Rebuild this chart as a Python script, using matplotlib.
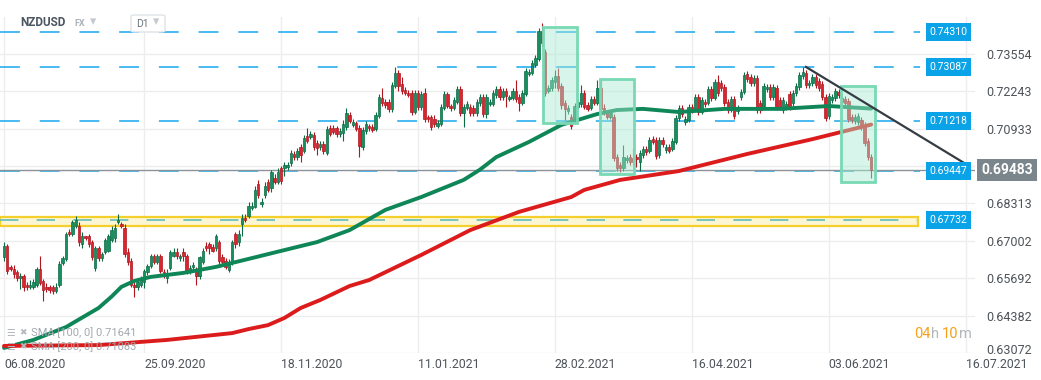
import matplotlib
matplotlib.use("Agg")
import matplotlib.pyplot as plt
import matplotlib.transforms as mtransforms
from matplotlib.patches import Rectangle, FancyBboxPatch

plt.rcParams['font.family'] = ['Roboto', 'DejaVu Sans']

# ── NZDUSD D1 candles ────────────────────────────────────────────────────
opens = [
    0.6642, 0.6684, 0.6607, 0.6600, 0.6590, 0.6569, 0.6576, 0.6547, 0.6537, 0.6540,
    0.6547, 0.6600, 0.6558, 0.6540, 0.6537, 0.6537, 0.6523, 0.6544, 0.6621, 0.6635,
    0.6733, 0.6726, 0.6754, 0.6754, 0.6688, 0.6716, 0.6716, 0.6695, 0.6604, 0.6677,
    0.6639, 0.6660, 0.6666, 0.6705, 0.6712, 0.6768, 0.6758, 0.6747, 0.6663, 0.6628,
    0.6547, 0.6537, 0.6547, 0.6555, 0.6590, 0.6611, 0.6649, 0.6625, 0.6646, 0.6590,
    0.6569, 0.6604, 0.6649, 0.6660, 0.6639, 0.6660, 0.6649, 0.6590, 0.6607, 0.6600,
    0.6576, 0.6625, 0.6684, 0.6688, 0.6680, 0.6674, 0.6695, 0.6642, 0.6628, 0.6597,
    0.6625, 0.6723, 0.6695, 0.6761, 0.6782, 0.6786, 0.6817, 0.6820, 0.6901, 0.6828,
    0.6862, 0.6908, 0.6884, 0.6922, 0.6908, 0.6954, 0.6957, 0.6961, 0.6975, 0.7006,
    0.6996, 0.7031, 0.7017, 0.7069, 0.7066, 0.7073, 0.7045, 0.7031, 0.7041, 0.7010,
    0.7097, 0.7097, 0.7097, 0.7076, 0.7080, 0.7101, 0.7143, 0.7108, 0.7115, 0.7097,
    0.7031, 0.7087, 0.7104, 0.7101, 0.7094, 0.7139, 0.7202, 0.7188, 0.7188, 0.7164,
    0.7244, 0.7290, 0.7251, 0.7230, 0.7220, 0.7220, 0.7153, 0.7220, 0.7171, 0.7220,
    0.7136, 0.7136, 0.7128, 0.7104, 0.7111, 0.7167, 0.7216, 0.7174, 0.7167, 0.7188,
    0.7233, 0.7150, 0.7167, 0.7171, 0.7167, 0.7150, 0.7185, 0.7206, 0.7146, 0.7181,
    0.7181, 0.7213, 0.7233, 0.7206, 0.7227, 0.7199, 0.7202, 0.7227, 0.7206, 0.7185,
    0.7216, 0.7286, 0.7290, 0.7317, 0.7338, 0.7436, 0.7363, 0.7227, 0.7237, 0.7258,
    0.7279, 0.7244, 0.7185, 0.7157, 0.7136, 0.7125, 0.7171, 0.7181, 0.7220, 0.7178,
    0.7167, 0.7199, 0.7185, 0.7237, 0.7167, 0.7153, 0.7136, 0.7136, 0.6996, 0.6968,
    0.6954, 0.6985, 0.6996, 0.6992, 0.6996, 0.6978, 0.7003, 0.7024, 0.7017, 0.7059,
    0.7055, 0.7003, 0.7055, 0.7020, 0.7031, 0.7024, 0.7048, 0.7132, 0.7167, 0.7118,
    0.7125, 0.7171, 0.7160, 0.7206, 0.7153, 0.7188, 0.7185, 0.7233, 0.7202, 0.7258,
    0.7255, 0.7241, 0.7188, 0.7160, 0.7199, 0.7157, 0.7206, 0.7223, 0.7286, 0.7276,
    0.7255, 0.7272, 0.7185, 0.7174, 0.7234, 0.7241, 0.7206, 0.7237, 0.7195, 0.7160,
    0.7171, 0.7216, 0.7185, 0.7220, 0.7241, 0.7279, 0.7290, 0.7248, 0.7255, 0.7276,
    0.7262, 0.7251, 0.7206, 0.7139, 0.7195, 0.7202, 0.7223, 0.7202, 0.7199, 0.7192,
    0.7136, 0.7122, 0.7118, 0.7125, 0.7108, 0.7052, 0.6996,
]
highs = [
    0.6695, 0.6691, 0.6614, 0.6614, 0.6597, 0.6586, 0.6583, 0.6555, 0.6562, 0.6565,
    0.6607, 0.6646, 0.6565, 0.6551, 0.6544, 0.6547, 0.6551, 0.6628, 0.6649, 0.6733,
    0.6743, 0.6775, 0.6786, 0.6768, 0.6730, 0.6719, 0.6723, 0.6705, 0.6684, 0.6684,
    0.6660, 0.6712, 0.6726, 0.6751, 0.6758, 0.6793, 0.6768, 0.6758, 0.6674, 0.6639,
    0.6555, 0.6562, 0.6576, 0.6600, 0.6618, 0.6653, 0.6656, 0.6653, 0.6653, 0.6600,
    0.6600, 0.6670, 0.6674, 0.6677, 0.6656, 0.6674, 0.6656, 0.6614, 0.6625, 0.6607,
    0.6649, 0.6677, 0.6695, 0.6695, 0.6688, 0.6726, 0.6705, 0.6653, 0.6639, 0.6635,
    0.6705, 0.6733, 0.6737, 0.6793, 0.6793, 0.6835, 0.6835, 0.6894, 0.6915, 0.6852,
    0.6905, 0.6918, 0.6950, 0.6933, 0.6957, 0.6964, 0.6978, 0.6978, 0.7020, 0.7017,
    0.7027, 0.7041, 0.7073, 0.7097, 0.7087, 0.7083, 0.7055, 0.7052, 0.7052, 0.7104,
    0.7108, 0.7108, 0.7104, 0.7097, 0.7125, 0.7167, 0.7153, 0.7129, 0.7122, 0.7108,
    0.7101, 0.7122, 0.7111, 0.7111, 0.7153, 0.7216, 0.7237, 0.7199, 0.7199, 0.7258,
    0.7310, 0.7300, 0.7276, 0.7240, 0.7230, 0.7230, 0.7230, 0.7230, 0.7227, 0.7237,
    0.7143, 0.7143, 0.7143, 0.7125, 0.7181, 0.7227, 0.7223, 0.7181, 0.7206, 0.7244,
    0.7244, 0.7181, 0.7192, 0.7181, 0.7178, 0.7199, 0.7216, 0.7216, 0.7216, 0.7199,
    0.7230, 0.7244, 0.7244, 0.7237, 0.7237, 0.7213, 0.7237, 0.7265, 0.7216, 0.7230,
    0.7307, 0.7303, 0.7335, 0.7352, 0.7447, 0.7465, 0.7373, 0.7248, 0.7276, 0.7300,
    0.7307, 0.7255, 0.7195, 0.7178, 0.7146, 0.7185, 0.7199, 0.7248, 0.7230, 0.7188,
    0.7209, 0.7209, 0.7265, 0.7265, 0.7181, 0.7160, 0.7160, 0.7146, 0.7006, 0.6978,
    0.7038, 0.7003, 0.7006, 0.7027, 0.7006, 0.7020, 0.7034, 0.7034, 0.7066, 0.7069,
    0.7066, 0.7066, 0.7066, 0.7041, 0.7041, 0.7062, 0.7143, 0.7178, 0.7178, 0.7139,
    0.7181, 0.7181, 0.7216, 0.7216, 0.7206, 0.7199, 0.7244, 0.7244, 0.7268, 0.7283,
    0.7265, 0.7251, 0.7199, 0.7209, 0.7209, 0.7178, 0.7234, 0.7293, 0.7297, 0.7286,
    0.7283, 0.7283, 0.7195, 0.7255, 0.7251, 0.7251, 0.7251, 0.7248, 0.7206, 0.7206,
    0.7192, 0.7227, 0.7230, 0.7255, 0.7293, 0.7310, 0.7300, 0.7265, 0.7286, 0.7286,
    0.7272, 0.7262, 0.7216, 0.7220, 0.7216, 0.7237, 0.7234, 0.7213, 0.7209, 0.7202,
    0.7146, 0.7146, 0.7150, 0.7136, 0.7118, 0.7062, 0.7006,
]
lows = [
    0.6628, 0.6583, 0.6593, 0.6569, 0.6558, 0.6530, 0.6523, 0.6527, 0.6530, 0.6530,
    0.6540, 0.6544, 0.6488, 0.6520, 0.6516, 0.6513, 0.6516, 0.6537, 0.6614, 0.6628,
    0.6719, 0.6719, 0.6747, 0.6684, 0.6677, 0.6702, 0.6680, 0.6632, 0.6593, 0.6628,
    0.6628, 0.6653, 0.6660, 0.6695, 0.6698, 0.6758, 0.6744, 0.6642, 0.6614, 0.6537,
    0.6505, 0.6527, 0.6540, 0.6534, 0.6579, 0.6604, 0.6618, 0.6618, 0.6586, 0.6569,
    0.6551, 0.6597, 0.6642, 0.6635, 0.6628, 0.6628, 0.6583, 0.6583, 0.6600, 0.6547,
    0.6565, 0.6618, 0.6666, 0.6653, 0.6660, 0.6666, 0.6618, 0.6614, 0.6600, 0.6590,
    0.6614, 0.6677, 0.6684, 0.6716, 0.6765, 0.6779, 0.6807, 0.6814, 0.6852, 0.6820,
    0.6852, 0.6873, 0.6873, 0.6898, 0.6898, 0.6901, 0.6929, 0.6950, 0.6964, 0.6985,
    0.6985, 0.6978, 0.7010, 0.7045, 0.7059, 0.7020, 0.7003, 0.7020, 0.7006, 0.7003,
    0.7069, 0.7076, 0.7066, 0.7066, 0.7052, 0.7090, 0.7115, 0.7101, 0.7087, 0.6996,
    0.7020, 0.7076, 0.7087, 0.7083, 0.7087, 0.7132, 0.7174, 0.7167, 0.7153, 0.7153,
    0.7237, 0.7227, 0.7216, 0.7213, 0.7206, 0.7143, 0.7146, 0.7160, 0.7160, 0.7118,
    0.7118, 0.7090, 0.7101, 0.7097, 0.7104, 0.7160, 0.7167, 0.7157, 0.7160, 0.7181,
    0.7139, 0.7101, 0.7160, 0.7139, 0.7139, 0.7139, 0.7174, 0.7136, 0.7132, 0.7174,
    0.7174, 0.7202, 0.7195, 0.7195, 0.7171, 0.7192, 0.7195, 0.7188, 0.7157, 0.7178,
    0.7209, 0.7279, 0.7283, 0.7310, 0.7331, 0.7384, 0.7209, 0.7220, 0.7227, 0.7237,
    0.7227, 0.7164, 0.7125, 0.7146, 0.7094, 0.7111, 0.7164, 0.7171, 0.7164, 0.7157,
    0.7160, 0.7178, 0.7178, 0.7153, 0.7143, 0.7129, 0.7129, 0.6981, 0.6946, 0.6943,
    0.6946, 0.6975, 0.6968, 0.6968, 0.6961, 0.6946, 0.6992, 0.7003, 0.7010, 0.7041,
    0.6989, 0.6992, 0.7031, 0.7010, 0.7010, 0.7017, 0.7041, 0.7122, 0.7136, 0.7108,
    0.7118, 0.7150, 0.7153, 0.7143, 0.7146, 0.7171, 0.7178, 0.7192, 0.7195, 0.7209,
    0.7227, 0.7174, 0.7150, 0.7153, 0.7129, 0.7146, 0.7195, 0.7216, 0.7258, 0.7244,
    0.7244, 0.7150, 0.7150, 0.7167, 0.7223, 0.7195, 0.7195, 0.7160, 0.7160, 0.7150,
    0.7160, 0.7160, 0.7174, 0.7209, 0.7230, 0.7269, 0.7237, 0.7237, 0.7244, 0.7237,
    0.7227, 0.7195, 0.7122, 0.7129, 0.7185, 0.7192, 0.7202, 0.7178, 0.7174, 0.7118,
    0.7115, 0.7111, 0.7108, 0.7090, 0.7034, 0.6985, 0.6922,
]
closes = [
    0.6684, 0.6593, 0.6600, 0.6583, 0.6569, 0.6576, 0.6537, 0.6540, 0.6547, 0.6555,
    0.6600, 0.6551, 0.6527, 0.6530, 0.6527, 0.6523, 0.6540, 0.6618, 0.6639, 0.6723,
    0.6726, 0.6765, 0.6772, 0.6695, 0.6716, 0.6709, 0.6688, 0.6642, 0.6677, 0.6639,
    0.6653, 0.6702, 0.6716, 0.6740, 0.6747, 0.6772, 0.6751, 0.6653, 0.6625, 0.6547,
    0.6537, 0.6555, 0.6565, 0.6593, 0.6611, 0.6646, 0.6625, 0.6646, 0.6593, 0.6576,
    0.6586, 0.6660, 0.6663, 0.6646, 0.6646, 0.6646, 0.6593, 0.6604, 0.6614, 0.6576,
    0.6642, 0.6666, 0.6677, 0.6674, 0.6666, 0.6716, 0.6628, 0.6625, 0.6607, 0.6625,
    0.6695, 0.6688, 0.6726, 0.6782, 0.6772, 0.6824, 0.6824, 0.6880, 0.6862, 0.6838,
    0.6894, 0.6880, 0.6940, 0.6908, 0.6943, 0.6911, 0.6968, 0.6968, 0.7010, 0.6996,
    0.7017, 0.7003, 0.7062, 0.7052, 0.7076, 0.7031, 0.7027, 0.7041, 0.7017, 0.7094,
    0.7076, 0.7083, 0.7076, 0.7087, 0.7111, 0.7150, 0.7122, 0.7118, 0.7094, 0.7034,
    0.7090, 0.7111, 0.7097, 0.7090, 0.7143, 0.7206, 0.7185, 0.7178, 0.7164, 0.7248,
    0.7290, 0.7244, 0.7227, 0.7220, 0.7213, 0.7153, 0.7220, 0.7171, 0.7216, 0.7129,
    0.7129, 0.7101, 0.7111, 0.7115, 0.7171, 0.7216, 0.7174, 0.7167, 0.7195, 0.7233,
    0.7150, 0.7171, 0.7181, 0.7150, 0.7150, 0.7188, 0.7206, 0.7146, 0.7206, 0.7188,
    0.7220, 0.7233, 0.7206, 0.7227, 0.7209, 0.7206, 0.7227, 0.7199, 0.7185, 0.7220,
    0.7297, 0.7293, 0.7324, 0.7342, 0.7436, 0.7395, 0.7220, 0.7237, 0.7265, 0.7279,
    0.7237, 0.7178, 0.7164, 0.7167, 0.7104, 0.7174, 0.7188, 0.7220, 0.7171, 0.7164,
    0.7199, 0.7185, 0.7237, 0.7164, 0.7153, 0.7136, 0.7150, 0.6992, 0.6957, 0.6954,
    0.6996, 0.6992, 0.6978, 0.6978, 0.6989, 0.7010, 0.7024, 0.7013, 0.7055, 0.7048,
    0.6999, 0.7055, 0.7041, 0.7031, 0.7017, 0.7052, 0.7132, 0.7167, 0.7146, 0.7128,
    0.7171, 0.7160, 0.7206, 0.7153, 0.7195, 0.7181, 0.7233, 0.7202, 0.7258, 0.7220,
    0.7237, 0.7185, 0.7160, 0.7199, 0.7139, 0.7167, 0.7223, 0.7283, 0.7269, 0.7255,
    0.7272, 0.7160, 0.7160, 0.7244, 0.7241, 0.7206, 0.7241, 0.7171, 0.7171, 0.7195,
    0.7181, 0.7171, 0.7220, 0.7244, 0.7283, 0.7293, 0.7248, 0.7255, 0.7276, 0.7248,
    0.7237, 0.7206, 0.7132, 0.7209, 0.7206, 0.7227, 0.7213, 0.7188, 0.7185, 0.7128,
    0.7125, 0.7136, 0.7139, 0.7101, 0.7045, 0.6996, 0.6948,
]

# moving averages, sampled along the drawn lines (bar index, value)
sma100_idx = [0, 9, 19, 29, 33, 36, 40, 45, 55, 65, 75, 86, 96, 106, 117, 128,
              141, 146, 151, 161, 171, 182, 188, 196, 207, 221, 238, 253, 266]
sma100_val = [0.6325, 0.6353, 0.6398, 0.6465, 0.6505, 0.6539, 0.6560, 0.6574,
              0.6588, 0.6609, 0.6637, 0.6668, 0.6696, 0.6738, 0.6809, 0.6854,
              0.6914, 0.6950, 0.6994, 0.7047, 0.7107, 0.7145, 0.7159, 0.7163,
              0.7152, 0.7163, 0.7163, 0.7173, 0.7164]
sma200_idx = [0, 29, 50, 70, 75, 81, 86, 91, 97, 106, 112, 128, 143, 158, 174,
              178, 189, 207, 228, 248, 266]
sma200_val = [0.6332, 0.6335, 0.6353, 0.6377, 0.6391, 0.6405, 0.6430, 0.6465,
              0.6493, 0.6542, 0.6563, 0.6651, 0.6738, 0.6802, 0.6854, 0.6879,
              0.6914, 0.6945, 0.7005, 0.7057, 0.7108]

levels = [0.74310, 0.73087, 0.71218, 0.69447]
support = 0.67732
support_lo, support_hi = 0.67525, 0.67840
last_price = 0.69483
trend_idx = [246, 295]
trend_val = [0.7310, 0.6970]
# highlighted areas: (first bar, last bar, low, high)
zones = [(165.3, 175.8, 0.71135, 0.74500),
         (182.8, 193.3, 0.69347, 0.72678),
         (256.7, 267.2, 0.69067, 0.72432)]

price_ticks = [0.63072, 0.64382, 0.65692, 0.67002, 0.68313, 0.69623, 0.70933,
               0.72243, 0.73554]
date_pos = [0, 43, 85, 127, 169, 211, 253, 295]
date_labels = ["06.08.2020", "25.09.2020", "18.11.2020", "11.01.2021",
               "28.02.2021", "16.04.2021", "03.06.2021", "16.07.2021"]

# ── Figure ───────────────────────────────────────────────────────────────
W, H = 1041, 380
fig = plt.figure(figsize=(W / 100, H / 100), dpi=100)
ax = fig.add_axes([0, 27 / H, 975 / W, 336 / H])
XL, XR = -1.23, 297.85
ax.set_xlim(XL, XR)
ax.set_ylim(0.63072, 0.74851)
for s in ax.spines.values():
    s.set_visible(False)

ax.set_yticks(price_ticks)
ax.set_yticklabels([f"{v:.5f}" for v in price_ticks])
ax.yaxis.tick_right()
ax.tick_params(axis="y", length=0, pad=8, labelsize=9, labelcolor="#4d5358")
# lowest price label sits a touch higher, clear of the date row
bottom_lbl = ax.get_yticklabels()[0]
bottom_lbl.set_transform(bottom_lbl.get_transform()
                         + mtransforms.ScaledTranslation(0, 4 / 100, fig.dpi_scale_trans))
ax.set_xticks(date_pos)
ax.set_xticklabels(date_labels)
ax.tick_params(axis="x", length=0, pad=3.5, labelsize=8.8, labelcolor="#4d5358")
for lbl in ax.get_xticklabels():
    lbl.set_ha("left")
ax.grid(color="#ededed", lw=1)
ax.set_axisbelow(True)

# candles
G_FILL, G_EDGE = "#17905f", "#0c6b45"
R_FILL, R_EDGE = "#dc2430", "#b0161f"
idx = list(range(len(closes)))
up = [c >= o for o, c in zip(opens, closes)]
ax.vlines(idx, lows, highs, colors=[G_EDGE if u else R_EDGE for u in up],
          lw=0.8, zorder=3)
bottoms = [min(o, c) for o, c in zip(opens, closes)]
heights = [max(abs(c - o), 0.0002) for o, c in zip(opens, closes)]
ax.bar(idx, heights, bottom=bottoms, width=0.74,
       color=[G_FILL if u else R_FILL for u in up],
       edgecolor=[G_EDGE if u else R_EDGE for u in up], linewidth=0.5, zorder=4)

# moving averages
ax.plot(sma100_idx, sma100_val, color="#0f8658", lw=2.8, zorder=5,
        solid_capstyle="round", solid_joinstyle="round")
ax.plot(sma200_idx, sma200_val, color="#dc1c1c", lw=2.8, zorder=5,
        solid_capstyle="round", solid_joinstyle="round")

# horizontal levels
LV_END = 281
ax.hlines(levels, XL, LV_END, colors="#38b4f0", lw=1.3,
          linestyles=(0, (11, 11)), zorder=2)
ax.add_patch(Rectangle((XL, support_lo), LV_END - 0.6 - XL, support_hi - support_lo,
                       fc="#fdf6d2", ec="#f5cf2c", lw=1.6, zorder=2))
ax.hlines(support, XL, LV_END - 1, colors="#62bcbc", lw=1.2,
          linestyles=(0, (11, 11)), zorder=2)
for lv in levels + [support]:
    ax.text(283.9, lv, f"{lv:.5f}", ha="left", va="center", fontsize=7.5,
            color="white", zorder=8,
            bbox=dict(boxstyle="square,pad=0.38", fc="#0ba3e8", ec="none"))

# current price
ax.axhline(last_price, color="#8b9398", lw=1, zorder=2)
tr = mtransforms.blended_transform_factory(ax.transAxes, ax.transData)
ax.text(1.0 + 6 / 975, last_price, f"{last_price:.5f}", transform=tr,
        ha="left", va="center", fontsize=10, fontweight="bold", color="white",
        clip_on=False, zorder=9,
        bbox=dict(boxstyle="square,pad=0.3", fc="#7b868c", ec="none"))

# highlighted zones and trend line
for x0, x1, lo, hi in zones:
    ax.add_patch(Rectangle((x0, lo), x1 - x0, hi - lo, fc=(0.66, 0.92, 0.82, 0.45),
                           ec="#78d9b4", lw=2, zorder=6))
ax.plot(trend_idx, trend_val, color="#353c43", lw=1.6, zorder=7)

# ── header / legend / timer ───────────────────────────────────────────────
def ftext(x, y, s, **kw):
    fig.text(x / W, 1 - y / H, s, va="center", **kw)

ftext(20, 23, "NZDUSD", fontsize=8.5, fontweight="bold", color="#4a5560")
ftext(74, 24, "FX", fontsize=6.5, fontweight="bold", color="#a9b3ba")
ftext(90, 22, "▾", fontsize=9, color="#c3c9ce")
fig.add_artist(FancyBboxPatch((131 / W, 1 - 32 / H), 34 / W, 17 / H,
                              boxstyle="round,pad=0,rounding_size=0.004",
                              transform=fig.transFigure, fc="white",
                              ec="#dfe3e6", lw=1))
ftext(136, 24, "D1", fontsize=7.5, color="#6b747b")
ftext(153, 22, "▾", fontsize=9, color="#c3c9ce")

for yy, name, val in [(333, "SMA [100, 0]", 0.71641), (347, "SMA [200, 0]", 0.71083)]:
    ftext(6, yy, "☰", fontsize=7, color="#b5b9bd")
    ftext(19, yy, "✖", fontsize=6.5, color="#b5b9bd")
    ftext(31, yy, f"{name} {val:.5f}", fontsize=8, color="#a2a9ae")

ftext(914, 334, "04", fontsize=10.5, color="#f5a11c")
ftext(931, 334, "h", fontsize=10.5, color="#b4b8bb")
ftext(942, 334, "10", fontsize=10.5, color="#f5a11c")
ftext(959, 334, "m", fontsize=10.5, color="#b4b8bb")

fig.savefig("out.png", dpi=100, facecolor="white")
